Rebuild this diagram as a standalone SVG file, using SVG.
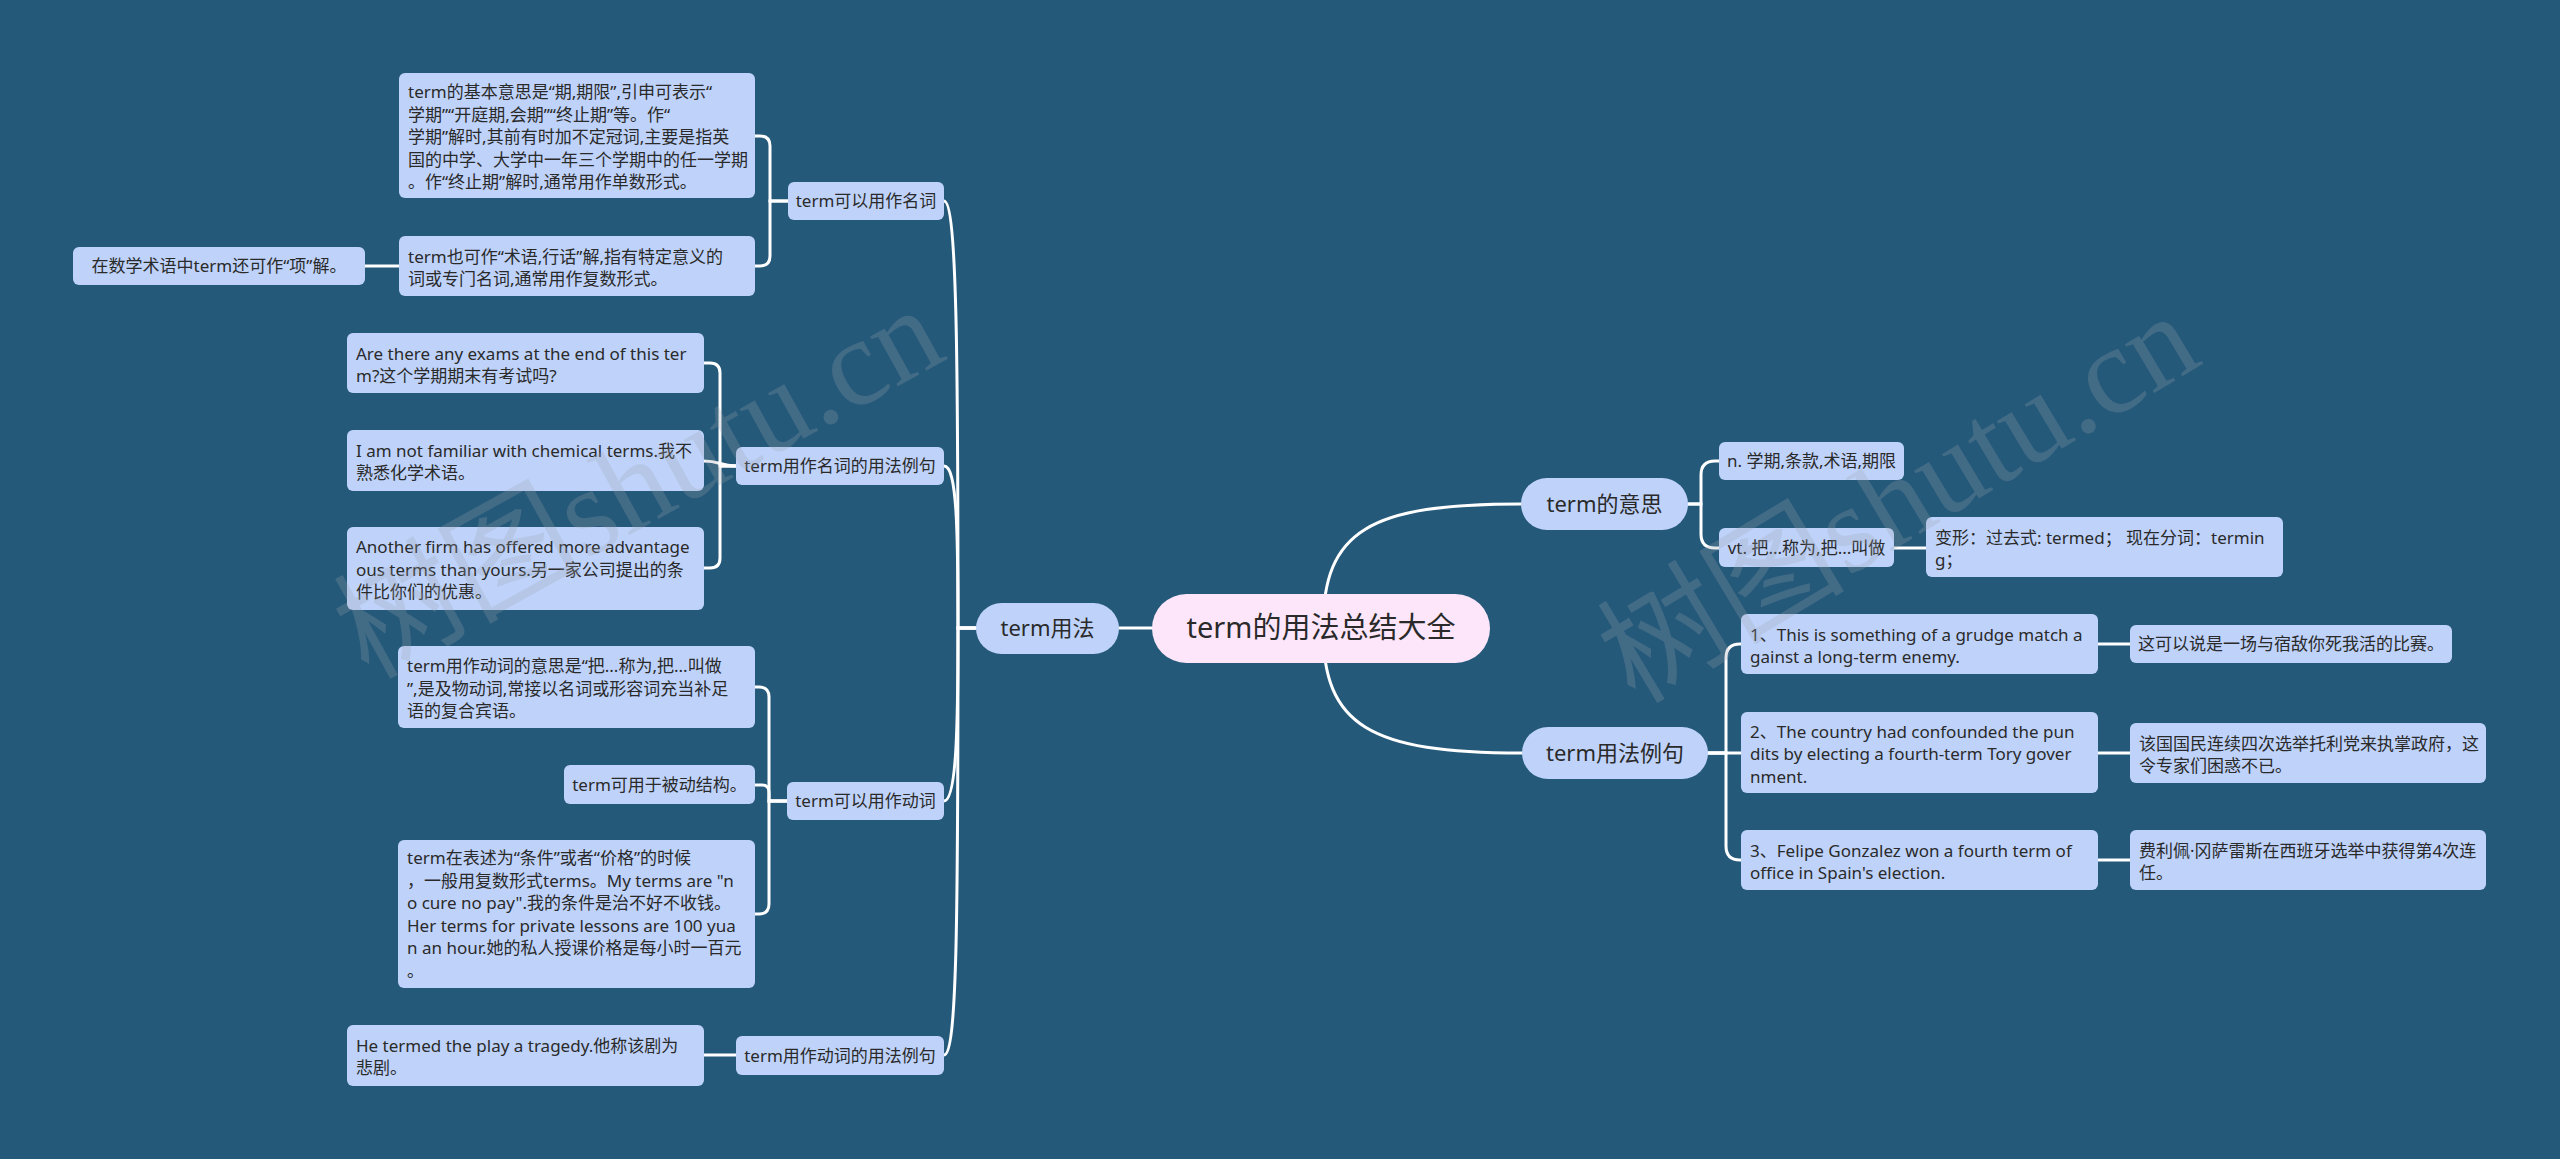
<svg xmlns="http://www.w3.org/2000/svg" width="2560" height="1159" viewBox="0 0 2560 1159">
<style>
.bg{fill:#25597a}
.c{fill:none;stroke:#ffffff;stroke-width:3;stroke-linecap:round}
.n{fill:#bfd3fa}
.root{fill:#fde6fa}
text{font-family:"Noto Sans","Noto Sans CJK SC",sans-serif;fill:#2a2a2a}
.t{font-size:17px}
.m{text-anchor:middle}
.l1{font-size:22px;text-anchor:middle}
.r{font-size:29px;text-anchor:middle}
.wm{font-family:"Liberation Serif","Noto Sans CJK SC",serif;font-size:124px;fill:#9aa3ad;opacity:0.25}
</style>
<rect class="bg" x="0" y="0" width="2560" height="1159"/>
<g id="connectors">
<path class="c" d="M1323,628 C1323,530 1370,504 1521,504"/>
<path class="c" d="M1323,628 C1323,726 1370,753 1522,753"/>
<path class="c" d="M1152,628 H1119"/>
<path class="c" d="M976,628 H958 C958,360 957,201 944,201"/>
<path class="c" d="M976,628 H958 C958,530 957,466 944,466"/>
<path class="c" d="M976,628 H958 C958,720 957,801 944,801"/>
<path class="c" d="M976,628 H958 C958,920 957,1055 944,1055"/>
<path class="c" d="M788,201 H770 V146 Q770,136 760,136 H755"/>
<path class="c" d="M788,201 H770 V256 Q770,266 760,266 H755"/>
<path class="c" d="M399,266 H365"/>
<path class="c" d="M736,466 H720 V373 Q720,363 710,363 H704"/>
<path class="c" d="M736,466 C720,466 720,461 704,461"/>
<path class="c" d="M736,466 H720 V558 Q720,568 710,568 H704"/>
<path class="c" d="M787,801 H769 V697 Q769,687 759,687 H755"/>
<path class="c" d="M787,801 H769 V792 Q769,785 762,785 H755"/>
<path class="c" d="M787,801 H769 V904 Q769,914 759,914 H755"/>
<path class="c" d="M736,1055 H704"/>
<path class="c" d="M1688,504 H1701 V475 Q1701,461 1715,461 H1719"/>
<path class="c" d="M1688,504 H1701 V534 Q1701,548 1715,548 H1719"/>
<path class="c" d="M1894,548 H1926"/>
<path class="c" d="M1708,753 H1741"/>
<path class="c" d="M1708,753 H1726 V658 Q1726,644 1740,644 H1741"/>
<path class="c" d="M1708,753 H1726 V846 Q1726,860 1740,860 H1741"/>
<path class="c" d="M2098,644 H2130"/>
<path class="c" d="M2098,753 H2130"/>
<path class="c" d="M2098,860 H2130"/>
</g>
<g id="n-root">
<rect class="root" x="1152" y="594" width="338" height="69" rx="34.5"/>
<text class="r" x="1321" y="638">term的用法总结大全</text>
</g>
<g id="n-usage">
<rect class="n" x="976" y="603" width="143" height="51" rx="25.5"/>
<text class="l1" x="1047.5" y="636">term用法</text>
</g>
<g id="n-meaning">
<rect class="n" x="1521" y="478" width="167" height="52" rx="26"/>
<text class="l1" x="1604.5" y="512">term的意思</text>
</g>
<g id="n-examples">
<rect class="n" x="1522" y="727" width="186" height="52" rx="26"/>
<text class="l1" x="1615" y="761">term用法例句</text>
</g>
<g id="n-noun">
<rect class="n" x="788" y="182" width="156" height="38" rx="6"/>
<text class="t m" x="866" y="207">term可以用作名词</text>
</g>
<g id="n-noun-basic">
<rect class="n" x="399" y="73" width="356" height="125" rx="6"/>
<text class="t"><tspan x="408" y="98">term的基本意思是“期,期限”,引申可表示“</tspan><tspan x="408" y="120.5">学期”“开庭期,会期”“终止期”等。作“</tspan><tspan x="408" y="143">学期”解时,其前有时加不定冠词,主要是指英</tspan><tspan x="408" y="165.5">国的中学、大学中一年三个学期中的任一学期</tspan><tspan x="408" y="188">。作“终止期”解时,通常用作单数形式。</tspan></text>
</g>
<g id="n-noun-jargon">
<rect class="n" x="399" y="236" width="356" height="60" rx="6"/>
<text class="t"><tspan x="408" y="262.5">term也可作“术语,行话”解,指有特定意义的</tspan><tspan x="408" y="285">词或专门名词,通常用作复数形式。</tspan></text>
</g>
<g id="n-noun-math">
<rect class="n" x="73" y="247" width="292" height="38" rx="6"/>
<text class="t m" x="219" y="272">在数学术语中term还可作“项”解。</text>
</g>
<g id="n-noun-ex">
<rect class="n" x="736" y="447" width="208" height="38" rx="6"/>
<text class="t m" x="840" y="472">term用作名词的用法例句</text>
</g>
<g id="n-noun-ex1">
<rect class="n" x="347" y="333" width="357" height="60" rx="6"/>
<text class="t"><tspan x="356" y="359.5">Are there any exams at the end of this ter</tspan><tspan x="356" y="382">m?这个学期期末有考试吗?</tspan></text>
</g>
<g id="n-noun-ex2">
<rect class="n" x="347" y="430" width="357" height="61" rx="6"/>
<text class="t"><tspan x="356" y="456.5">I am not familiar with chemical terms.我不</tspan><tspan x="356" y="479">熟悉化学术语。</tspan></text>
</g>
<g id="n-noun-ex3">
<rect class="n" x="347" y="527" width="357" height="83" rx="6"/>
<text class="t"><tspan x="356" y="553">Another firm has offered more advantage</tspan><tspan x="356" y="575.5">ous terms than yours.另一家公司提出的条</tspan><tspan x="356" y="598">件比你们的优惠。</tspan></text>
</g>
<g id="n-verb">
<rect class="n" x="787" y="782" width="157" height="38" rx="6"/>
<text class="t m" x="865.5" y="807">term可以用作动词</text>
</g>
<g id="n-verb-meaning">
<rect class="n" x="398" y="646" width="357" height="82" rx="6"/>
<text class="t"><tspan x="407" y="672">term用作动词的意思是“把...称为,把...叫做</tspan><tspan x="407" y="694.5">”,是及物动词,常接以名词或形容词充当补足</tspan><tspan x="407" y="717">语的复合宾语。</tspan></text>
</g>
<g id="n-verb-passive">
<rect class="n" x="564" y="765" width="191" height="39" rx="6"/>
<text class="t m" x="659.5" y="791">term可用于被动结构。</text>
</g>
<g id="n-verb-terms">
<rect class="n" x="398" y="840" width="357" height="148" rx="6"/>
<text class="t"><tspan x="407" y="864">term在表述为“条件”或者“价格”的时候</tspan><tspan x="407" y="886.5">，一般用复数形式terms。My terms are "n</tspan><tspan x="407" y="909">o cure no pay".我的条件是治不好不收钱。</tspan><tspan x="407" y="931.5">Her terms for private lessons are 100 yua</tspan><tspan x="407" y="954">n an hour.她的私人授课价格是每小时一百元</tspan><tspan x="407" y="976.5">。</tspan></text>
</g>
<g id="n-verb-ex">
<rect class="n" x="736" y="1036" width="208" height="39" rx="6"/>
<text class="t m" x="840" y="1062">term用作动词的用法例句</text>
</g>
<g id="n-verb-ex1">
<rect class="n" x="347" y="1025" width="357" height="61" rx="6"/>
<text class="t"><tspan x="356" y="1051.5">He termed the play a tragedy.他称该剧为</tspan><tspan x="356" y="1074">悲剧。</tspan></text>
</g>
<g id="n-mean-n">
<rect class="n" x="1719" y="442" width="185" height="38" rx="6"/>
<text class="t m" x="1811.5" y="467">n. 学期,条款,术语,期限</text>
</g>
<g id="n-mean-vt">
<rect class="n" x="1719" y="528" width="175" height="39" rx="6"/>
<text class="t m" x="1806.5" y="554">vt. 把...称为,把...叫做</text>
</g>
<g id="n-mean-forms">
<rect class="n" x="1926" y="517" width="357" height="60" rx="6"/>
<text class="t"><tspan x="1935" y="543.5">变形：过去式: termed； 现在分词：termin</tspan><tspan x="1935" y="566">g；</tspan></text>
</g>
<g id="n-ex1">
<rect class="n" x="1741" y="614" width="357" height="60" rx="6"/>
<text class="t"><tspan x="1750" y="640.5">1、This is something of a grudge match a</tspan><tspan x="1750" y="663">gainst a long-term enemy.</tspan></text>
</g>
<g id="n-ex1-cn">
<rect class="n" x="2130" y="625" width="322" height="38" rx="6"/>
<text class="t m" x="2291" y="650">这可以说是一场与宿敌你死我活的比赛。</text>
</g>
<g id="n-ex2">
<rect class="n" x="1741" y="712" width="357" height="81" rx="6"/>
<text class="t"><tspan x="1750" y="737.5">2、The country had confounded the pun</tspan><tspan x="1750" y="760">dits by electing a fourth-term Tory gover</tspan><tspan x="1750" y="782.5">nment.</tspan></text>
</g>
<g id="n-ex2-cn">
<rect class="n" x="2130" y="723" width="356" height="60" rx="6"/>
<text class="t"><tspan x="2139" y="749.5">该国国民连续四次选举托利党来执掌政府，这</tspan><tspan x="2139" y="772">令专家们困惑不已。</tspan></text>
</g>
<g id="n-ex3">
<rect class="n" x="1741" y="830" width="357" height="60" rx="6"/>
<text class="t"><tspan x="1750" y="856.5">3、Felipe Gonzalez won a fourth term of</tspan><tspan x="1750" y="879">office in Spain's election.</tspan></text>
</g>
<g id="n-ex3-cn">
<rect class="n" x="2130" y="830" width="356" height="60" rx="6"/>
<text class="t"><tspan x="2139" y="856.5">费利佩·冈萨雷斯在西班牙选举中获得第4次连</tspan><tspan x="2139" y="879">任。</tspan></text>
</g>
<g id="watermarks">
<text class="wm" transform="translate(368,680) rotate(-29)">树图shutu.cn</text>
<text class="wm" transform="translate(1635,705) rotate(-31)">树图shutu.cn</text>
</g>
</svg>
